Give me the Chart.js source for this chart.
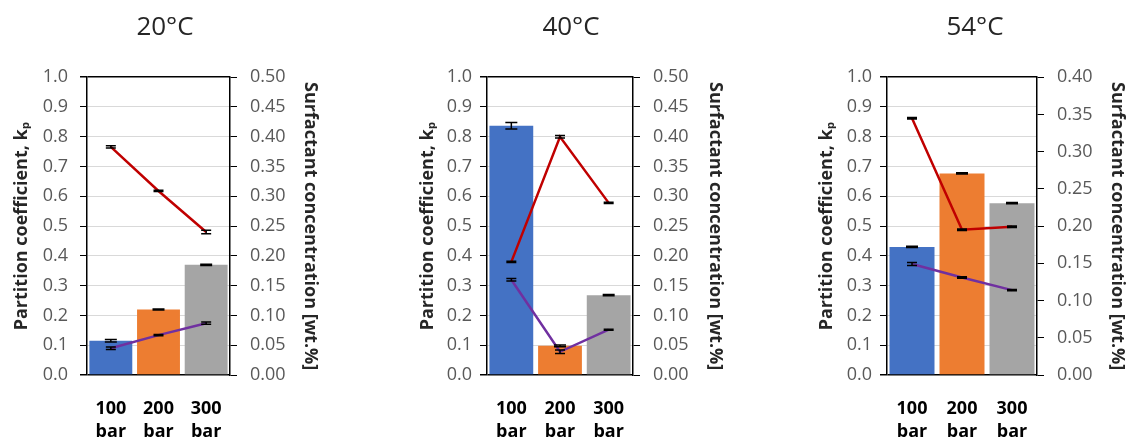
<!DOCTYPE html>
<html>
<head>
<meta charset="utf-8">
<script src="https://cdn.jsdelivr.net/npm/chart.js@4.4.1/dist/chart.umd.min.js"></script>
<style>
    html, body { margin: 0; padding: 0; background: #fff; overflow: hidden; }
    #wrap { position: relative; width: 1126px; height: 439px; overflow: hidden; }
    canvas { position: absolute; top: 0; }
</style>
</head>
<body>
<div id="wrap">
    <canvas id="c20" width="330" height="439" style="left:0px"></canvas>
    <canvas id="c40" width="342" height="439" style="left:400px"></canvas>
    <canvas id="c54" width="350" height="439" style="left:800px"></canvas>
</div>
<script>
// ---- data ----
const pressureLabels = [['100', 'bar'], ['200', 'bar'], ['300', 'bar']];
const temperatures = ['20°C', '40°C', '54°C'];

// partition coefficient kp (left axis)
const kp20 = [0.115, 0.22, 0.37];
const kp20Err = [0.004, 0.002, 0.002];
const kp40 = [0.837, 0.098, 0.268];
const kp40Err = [0.011, 0.003, 0.002];
const kp54 = [0.43, 0.677, 0.577];
const kp54Err = [0.002, 0.002, 0.002];

// surfactant concentration [wt.%] (right axis)
const surfRed20 = [0.383, 0.309, 0.240];
const surfRed20Err = [0.002, 0.001, 0.003];
const surfPurple20 = [0.045, 0.067, 0.087];
const surfPurple20Err = [0.002, 0.001, 0.002];
const surfRed40 = [0.190, 0.400, 0.289];
const surfRed40Err = [0.001, 0.002, 0.001];
const surfPurple40 = [0.160, 0.039, 0.076];
const surfPurple40Err = [0.002, 0.003, 0.001];
const surfRed54 = [0.345, 0.195, 0.199];
const surfRed54Err = [0.001, 0.001, 0.001];
const surfPurple54 = [0.149, 0.131, 0.114];
const surfPurple54Err = [0.002, 0.001, 0.001];

const surfMax = [0.5, 0.5, 0.4];

// ---- styles ----
const barColors = ['#4472C4', '#ED7D31', '#A5A5A5'];
const redColor = '#C00000';
const purpleColor = '#7030A0';

Chart.defaults.font.family = "'Open Sans', sans-serif";

/**
 * エラーバーを描画するプラグイン
 */
const errorBars = {
    id: 'errorBars',
    afterDatasetsDraw(chart) {
        const ctx = chart.ctx;
        ctx.save();
        ctx.strokeStyle = '#000';
        ctx.lineWidth = 1.5;
        chart.data.datasets.forEach((ds, i) => {
            if (!ds.errors) return;
            const meta = chart.getDatasetMeta(i);
            const yScale = chart.scales[meta.yAxisID];
            const half = ds.type === 'bar' ? 6 : 5;
            meta.data.forEach((el, j) => {
                const v = ds.data[j];
                const e = ds.errors[j];
                const yTop = yScale.getPixelForValue(v + e);
                const yBot = yScale.getPixelForValue(v - e);
                ctx.beginPath();
                ctx.moveTo(el.x, yTop);
                ctx.lineTo(el.x, yBot);
                ctx.moveTo(el.x - half, yTop);
                ctx.lineTo(el.x + half, yTop);
                ctx.moveTo(el.x - half, yBot);
                ctx.lineTo(el.x + half, yBot);
                ctx.stroke();
            });
        });
        ctx.restore();
    },
};

const isEdge = (v) => Math.abs(v) < 1e-6 || Math.abs(v - 1) < 1e-6;

const createPanel = (id, title, kp, kpErr, red, redErr, purple, purpleErr, rightMax, lay) => {
    const config = {
        data: {
            labels: pressureLabels,
            datasets: [
                { type: 'line', data: red, errors: redErr, yAxisID: 'y1', borderColor: redColor,
                  borderWidth: 2.5, pointRadius: 0, tension: 0, order: 0 },
                { type: 'line', data: purple, errors: purpleErr, yAxisID: 'y1', borderColor: purpleColor,
                  borderWidth: 2.5, pointRadius: 0, tension: 0, order: 0 },
                { type: 'bar', data: kp, errors: kpErr, yAxisID: 'y', backgroundColor: barColors,
                  barPercentage: 0.9, categoryPercentage: 1.0, order: 1 },
            ],
        },
        options: {
            responsive: false,
            animation: false,
            layout: { padding: 0 },
            plugins: {
                legend: { display: false },
                tooltip: { enabled: false },
                title: {
                    display: true,
                    text: title,
                    color: '#262626',
                    font: { size: 26, weight: 'normal' },
                    padding: { top: 12, bottom: 34 },
                },
            },
            scales: {
                x: {
                    grid: { display: false, drawTicks: false },
                    border: { display: false },
                    ticks: {
                        color: '#000',
                        font: { size: 18, weight: 'bold', lineHeight: 1.3 },
                        padding: 22,
                        maxRotation: 0,
                    },
                    afterFit: (scale) => { scale.height = 64; },
                },
                y: {
                    position: 'left',
                    min: 0,
                    max: 1,
                    ticks: {
                        stepSize: 0.1,
                        color: '#595959',
                        font: { size: 18 },
                        padding: lay.leftPad,
                        callback: (v) => v.toFixed(1),
                    },
                    grid: {
                        color: (c) => (isEdge(c.tick.value) ? '#000' : '#d9d9d9'),
                        lineWidth: (c) => (isEdge(c.tick.value) ? 1.5 : 1),
                        tickColor: '#000',
                        tickLength: 7,
                    },
                    border: { color: '#000', width: 1.5 },
                    title: {
                        display: true,
                        text: 'Partition coefficient, kₚ',
                        color: '#262626',
                        font: { size: 18, weight: 'bold' },
                        padding: { top: lay.leftTitlePad },
                    },
                    afterFit: (scale) => { scale.width = 87; },
                },
                y1: {
                    position: 'right',
                    min: 0,
                    max: rightMax,
                    ticks: {
                        stepSize: 0.05,
                        color: '#595959',
                        font: { size: 18 },
                        padding: 13,
                        callback: (v) => v.toFixed(2),
                    },
                    grid: { drawOnChartArea: false, tickColor: '#000', tickLength: 7 },
                    border: { color: '#000', width: 1.5 },
                    title: {
                        display: true,
                        text: 'Surfactant concentration [wt.%]',
                        color: '#262626',
                        font: { size: 18, weight: 'bold' },
                        padding: { top: lay.rightTitlePad },
                    },
                    afterFit: (scale) => { scale.width = lay.rightW; },
                },
            },
        },
        plugins: [errorBars],
    };
    return new Chart(document.getElementById(id), config);
};

createPanel('c20', temperatures[0], kp20, kp20Err, surfRed20, surfRed20Err, surfPurple20, surfPurple20Err, surfMax[0],
    { leftPad: 12, leftTitlePad: 11, rightW: 100, rightTitlePad: 9 });
createPanel('c40', temperatures[1], kp40, kp40Err, surfRed40, surfRed40Err, surfPurple40, surfPurple40Err, surfMax[1],
    { leftPad: 8, leftTitlePad: 17, rightW: 109, rightTitlePad: 16 });
createPanel('c54', temperatures[2], kp54, kp54Err, surfRed54, surfRed54Err, surfPurple54, surfPurple54Err, surfMax[2],
    { leftPad: 8, leftTitlePad: 16, rightW: 113, rightTitlePad: 22 });
</script>
</body>
</html>
